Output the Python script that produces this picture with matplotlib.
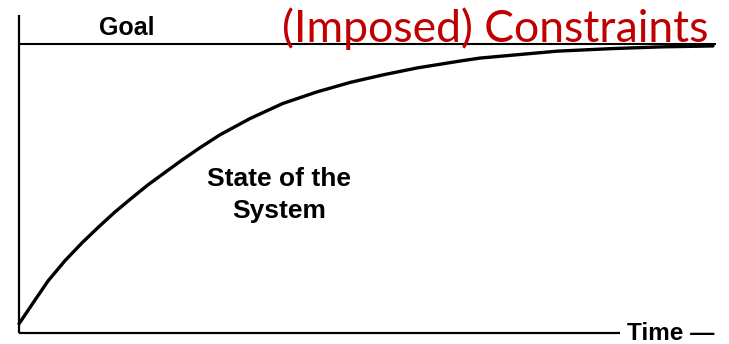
import matplotlib
matplotlib.use("Agg")
import matplotlib.pyplot as plt

# Data (time and state normalised: 0 = start / 1 = goal)
time = [0.0, 0.023, 0.042, 0.066, 0.091, 0.114, 0.138, 0.162, 0.185,
        0.210, 0.234, 0.260, 0.289, 0.332, 0.379, 0.428, 0.476, 0.523,
        0.572, 0.634, 0.662, 0.773, 0.853, 0.925, 0.997]
state = [0.032, 0.114, 0.181, 0.250, 0.313, 0.366, 0.419, 0.467, 0.512,
         0.556, 0.598, 0.641, 0.686, 0.742, 0.794, 0.834, 0.867, 0.893,
         0.917, 0.941, 0.951, 0.975, 0.984, 0.990, 0.993]
goal = 1.0

fig = plt.figure(figsize=(7.29, 3.44), dpi=100)
ax = fig.add_axes([0, 0, 1, 1])
ax.set_xlim(-0.0273, 1.0201)
ax.set_ylim(-0.038, 1.152)
ax.axis("off")

# hand-drawn axes
ax.plot([0, 0], [0, 1.10], color="black", lw=1.6, solid_capstyle="butt")
ax.plot([0, 0.8635], [0, 0], color="black", lw=1.6, solid_capstyle="butt")

# goal line and system state
ax.plot([0, 1.0], [goal, goal], color="black", lw=1.5)
ax.plot(time, state, color="black", lw=2.4, solid_capstyle="round",
        solid_joinstyle="round")

bold = dict(family="Liberation Sans", weight="bold", color="black")
ax.text(0.155, 1.031, "Goal", ha="center", va="baseline", fontsize=18, **bold)
ax.text(0.374, 0.509, "State of the", ha="center", va="baseline", fontsize=19, **bold)
ax.text(0.374, 0.398, "System", ha="center", va="baseline", fontsize=19, **bold)
ax.text(0.874, -0.024, "Time \u2014", ha="left", va="baseline", fontsize=17.5, **bold)

ax.text(0.990, 1.007, "(Imposed) Constraints", ha="right", va="baseline",
        fontsize=32, family="Lato", color="#C00000")

fig.savefig("out.png", dpi=100)
